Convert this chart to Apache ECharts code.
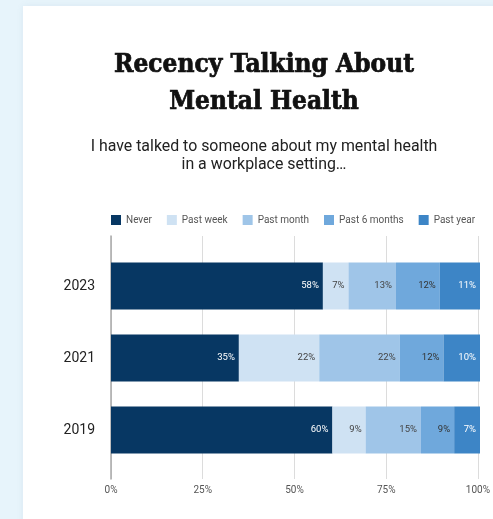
<!DOCTYPE html>
<html>
<head>
<meta charset="utf-8">
<script src="https://cdn.jsdelivr.net/npm/echarts@6/dist/echarts.min.js"></script>
<style>
  html, body { margin: 0; padding: 0; width: 493px; height: 519px; overflow: hidden; background: #e7f4fb; }
  #card { position: absolute; left: 23px; top: 6px; width: 480px; height: 530px; background: #fff; box-shadow: 0 0 6px rgba(120,150,170,0.12); }
  #chart { position: absolute; left: 0; top: 0; width: 493px; height: 519px; }
</style>
</head>
<body>
<div id="card"></div>
<div id="chart"></div>
<script>
// Survey years, top to bottom
const years = ['2023', '2021', '2019'];
// Answer shares in percent, one array per answer
const never = [58, 35, 60];
const pastWeek = [7, 22, 9];
const pastMonth = [13, 22, 15];
const pastSixMonths = [12, 12, 9];
const pastYear = [11, 10, 7];
const xTicks = [0, 25, 50, 75, 100];

const answers = [
  { name: 'Never', values: never, color: '#073763', text: '#ffffff' },
  { name: 'Past week', values: pastWeek, color: '#cfe2f3', text: '#444444' },
  { name: 'Past month', values: pastMonth, color: '#9fc5e8', text: '#444444' },
  { name: 'Past 6 months', values: pastSixMonths, color: '#6fa8dc', text: '#333333' },
  { name: 'Past year', values: pastYear, color: '#3d85c6', text: '#ffffff' }
];

// Each row is scaled so its rounded shares fill exactly 100%
const rowTotals = years.map((_, i) => answers.reduce((s, a) => s + a.values[i], 0));

const series = answers.map(a => ({
  name: a.name,
  type: 'bar',
  stack: 'share',
  xAxisIndex: 0,
  yAxisIndex: 0,
  barWidth: 47,
  itemStyle: { color: a.color },
  label: {
    show: true,
    position: 'insideRight',
    distance: 4,
    color: a.text,
    fontSize: 9.5,
    fontFamily: 'Roboto',
    formatter: p => a.values[p.dataIndex] + '%'
  },
  data: a.values.map((v, i) => ({ value: v / rowTotals[i] * 100 }))
}));

const chart = echarts.init(document.getElementById('chart'), null, { renderer: 'canvas' });
chart.setOption({
  backgroundColor: 'transparent',
  animation: false,
  title: [
    {
      text: 'Recency Talking About\nMental Health',
      left: 264,
      top: 47,
      padding: 0,
      textAlign: 'center',
      textStyle: {
        fontFamily: 'DejaVu Serif Condensed', fontWeight: 'bold', fontSize: 26, lineHeight: 37, color: '#111',
        textBorderColor: '#111', textBorderWidth: 0.7
      }
    },
    {
      text: 'I have talked to someone about my mental health\nin a workplace setting…',
      left: 264,
      top: 138,
      padding: 0,
      textAlign: 'center',
      textStyle: { fontFamily: 'Roboto', fontWeight: 'normal', fontSize: 15.9, lineHeight: 18, color: '#222' }
    }
  ],
  legend: {
    left: 111,
    top: 215,
    padding: 0,
    icon: 'rect',
    itemWidth: 10,
    itemHeight: 10,
    itemGap: 15,
    textStyle: { fontFamily: 'Roboto', fontSize: 10, color: '#555' },
    data: answers.map(a => a.name)
  },
  grid: [
    { left: 111, right: 13, top: 250, height: 216 },
    { left: 111, right: 13, top: 236, height: 243 }
  ],
  xAxis: [
    { gridIndex: 0, type: 'value', min: 0, max: 100, show: false },
    {
      gridIndex: 1, type: 'value', min: xTicks[0], max: xTicks[xTicks.length - 1], interval: 25,
      axisLine: { show: false },
      axisTick: { show: false },
      splitLine: { show: true, lineStyle: { color: '#dcdcdc', width: 1 } },
      axisLabel: { formatter: '{value}%', fontFamily: 'Roboto', fontSize: 10, color: '#555', margin: 6 }
    }
  ],
  yAxis: [
    {
      gridIndex: 0, type: 'category', data: years, inverse: true,
      axisLine: { show: false },
      axisTick: { show: false },
      axisLabel: { fontFamily: 'Roboto', fontSize: 14, color: '#222', margin: 16 }
    },
    {
      gridIndex: 1, type: 'value', min: 0, max: 1,
      axisLine: { show: true, lineStyle: { color: '#a8a8a8', width: 1.5 } },
      axisTick: { show: false },
      axisLabel: { show: false },
      splitLine: { show: false }
    }
  ],
  series: series
});
</script>
</body>
</html>
